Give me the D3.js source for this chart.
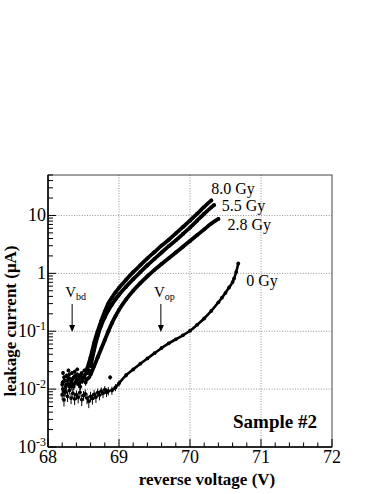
<!DOCTYPE html>
<html>
<head>
<meta charset="utf-8">
<script src="https://cdn.jsdelivr.net/npm/d3@7"></script>
<style>
  body { margin: 0; background: #fff; }
  text { font-family: "Liberation Serif", "Times New Roman", serif; }
</style>
</head>
<body>
<div id="viz-container"></div>
<script>

// measured points [reverse voltage (V), leakage current (uA)]
// low-current scatter (markers + error bars only)
var noise80 = [[68.200, 0.012], [68.212, 0.019], [68.225, 0.016], [68.238, 0.010], [68.250, 0.011], [68.262, 0.017],
  [68.275, 0.014], [68.288, 0.021], [68.300, 0.018], [68.312, 0.012], [68.325, 0.013], [68.338, 0.019],
  [68.350, 0.015], [68.362, 0.011], [68.375, 0.020], [68.388, 0.016], [68.400, 0.014], [68.412, 0.022],
  [68.425, 0.017], [68.438, 0.012], [68.450, 0.013], [68.462, 0.018], [68.475, 0.019], [68.488, 0.014],
  [68.500, 0.016], [68.512, 0.021], [68.525, 0.018], [68.538, 0.020]];
var noise55 = [[68.210, 0.010], [68.235, 0.014], [68.260, 0.017], [68.285, 0.012], [68.310, 0.015], [68.335, 0.011],
  [68.360, 0.016], [68.385, 0.013], [68.410, 0.018], [68.435, 0.012], [68.460, 0.016], [68.485, 0.014],
  [68.510, 0.017], [68.535, 0.015], [68.560, 0.019], [68.585, 0.021]];
var noise28 = [[68.205, 0.013], [68.230, 0.009], [68.255, 0.012], [68.280, 0.016], [68.305, 0.011], [68.330, 0.014],
  [68.355, 0.012], [68.380, 0.017], [68.405, 0.013], [68.430, 0.015], [68.455, 0.011], [68.480, 0.014],
  [68.505, 0.016], [68.530, 0.013], [68.555, 0.015], [68.580, 0.016]];
var noise0 = [[68.200, 0.0080], [68.225, 0.0065], [68.250, 0.0090], [68.275, 0.0075], [68.300, 0.0095], [68.325, 0.0070],
  [68.350, 0.0085], [68.375, 0.0068], [68.400, 0.0080], [68.425, 0.0072], [68.450, 0.0088], [68.475, 0.0066],
  [68.500, 0.0078], [68.525, 0.0083], [68.550, 0.0070], [68.575, 0.0062], [68.600, 0.0075], [68.625, 0.0069],
  [68.650, 0.0081], [68.675, 0.0073], [68.700, 0.0087], [68.725, 0.0079], [68.750, 0.0092], [68.775, 0.0085],
  [68.800, 0.0098], [68.825, 0.0088], [68.850, 0.0093], [68.875, 0.0160]];

// rising part of each curve
var curve80 = [[68.55, 0.0224], [68.60, 0.0355], [68.65, 0.063], [68.70, 0.100], [68.75, 0.151], [68.80, 0.219],
  [68.85, 0.302], [68.90, 0.380], [68.95, 0.468], [69.00, 0.562], [69.10, 0.776], [69.20, 1.05], [69.30, 1.38],
  [69.40, 1.82], [69.50, 2.34], [69.60, 3.02], [69.70, 3.80], [69.80, 4.90], [69.90, 6.31], [70.00, 8.13],
  [70.10, 10.7], [70.20, 14.1], [70.30, 18.2]];
var curve55 = [[68.60, 0.0251], [68.65, 0.0479], [68.70, 0.0832], [68.75, 0.126], [68.80, 0.174], [68.85, 0.229],
  [68.90, 0.288], [68.95, 0.355], [69.00, 0.427], [69.10, 0.589], [69.20, 0.794], [69.30, 1.05], [69.40, 1.38],
  [69.50, 1.78], [69.60, 2.29], [69.70, 2.95], [69.80, 3.72], [69.90, 4.79], [70.00, 6.17], [70.10, 8.13],
  [70.20, 10.7], [70.30, 13.8], [70.34, 15.1]];
var curve28 = [[68.60, 0.0178], [68.65, 0.0251], [68.70, 0.0355], [68.75, 0.0501], [68.80, 0.0708], [68.85, 0.100],
  [68.90, 0.138], [68.95, 0.182], [69.00, 0.234], [69.10, 0.355], [69.20, 0.501], [69.30, 0.676], [69.40, 0.891],
  [69.50, 1.15], [69.60, 1.45], [69.70, 1.82], [69.80, 2.29], [69.90, 2.88], [70.00, 3.63], [70.10, 4.57],
  [70.20, 5.75], [70.30, 7.24], [70.40, 8.71]];
var curve0 = [[68.90, 0.0095], [68.95, 0.0107], [69.00, 0.0126], [69.10, 0.0174], [69.20, 0.0219], [69.30, 0.0275],
  [69.40, 0.0339], [69.50, 0.0417], [69.60, 0.0513], [69.70, 0.0617], [69.80, 0.0724], [69.90, 0.0851],
  [70.00, 0.102], [70.10, 0.129], [70.20, 0.166], [70.30, 0.224], [70.40, 0.316], [70.45, 0.380], [70.50, 0.460],
  [70.55, 0.570], [70.60, 0.708], [70.62, 0.813], [70.65, 1.05], [70.68, 1.48]];

var seriesNames = ["8.0 Gy", "5.5 Gy", "2.8 Gy", "0 Gy"];
var currentErr = 0.0015;

var xTicks = [68, 69, 70, 71, 72];
var yTicks = [1e-3, 1e-2, 1e-1, 1, 10];
var yTickLabels = [["10", "-3"], ["10", "-2"], ["10", "-1"], ["1", ""], ["10", ""]];
var arrowMarks = [{ v: 68.34, main: "V", sub: "bd" }, { v: 69.59, main: "V", sub: "op" }];

var width = 382, height = 494;
var padL = 48, padR = 332, padT = 175, padB = 447;

var x = d3.scaleLinear().domain([68, 72]).range([padL, padR]);
var y = d3.scaleLog().domain([1e-3, 50]).range([padB, padT]);

var svg = d3.select('#viz-container')
  .append('svg')
  .attr("width", width)
  .attr("height", height)
  .style("background", "#fff");

// grid
svg.append('g').selectAll('line')
  .data(xTicks.slice(1, -1))
  .enter().append('line')
  .attr("x1", function (d) { return x(d); })
  .attr("x2", function (d) { return x(d); })
  .attr("y1", padT).attr("y2", padB)
  .style('stroke', '#777').style('stroke-width', 0.8).style('stroke-dasharray', '1,1.6');

svg.append('g').selectAll('line')
  .data(yTicks.slice(1))
  .enter().append('line')
  .attr("x1", padL).attr("x2", padR)
  .attr("y1", function (d) { return y(d); })
  .attr("y2", function (d) { return y(d); })
  .style('stroke', '#777').style('stroke-width', 0.8).style('stroke-dasharray', '1,1.6');

// frame
svg.append('rect')
  .attr("x", padL).attr("y", padT)
  .attr("width", padR - padL).attr("height", padB - padT)
  .style('fill', 'none').style('stroke', '#444').style('stroke-width', 1);

// x axis ticks (inside)
var xMinor = d3.range(68, 72.001, 0.2);
svg.append('g').selectAll('line')
  .data(xMinor)
  .enter().append('line')
  .attr("x1", function (d) { return x(d); })
  .attr("x2", function (d) { return x(d); })
  .attr("y1", padB)
  .attr("y2", function (d) { return Math.abs(d - Math.round(d)) < 1e-6 ? padB - 8 : padB - 4.5; })
  .style('stroke', '#000').style('stroke-width', 1);

// y axis ticks (inside, log)
var yMinor = [];
[1e-3, 1e-2, 1e-1, 1, 10].forEach(function (dec) {
  for (var k = 1; k <= 9; k++) {
    if (dec * k <= 50) yMinor.push({ v: dec * k, major: k == 1 });
  }
});
svg.append('g').selectAll('line')
  .data(yMinor)
  .enter().append('line')
  .attr("x1", padL)
  .attr("x2", function (d) { return d.major ? padL + 8 : padL + 5; })
  .attr("y1", function (d) { return y(d.v); })
  .attr("y2", function (d) { return y(d.v); })
  .style('stroke', '#000').style('stroke-width', 1);

svg.append('line')
  .attr("x1", padL).attr("x2", padR).attr("y1", padB).attr("y2", padB)
  .style('stroke', '#000').style('stroke-width', 1.5);
svg.append('line')
  .attr("x1", padL).attr("x2", padL).attr("y1", padT).attr("y2", padB)
  .style('stroke', '#000').style('stroke-width', 1.5);

// tick labels
svg.append('g').selectAll('text')
  .data(xTicks)
  .enter().append('text')
  .attr("x", function (d) { return x(d); })
  .attr("y", 463)
  .attr("text-anchor", "middle")
  .style("font-size", "18px")
  .text(function (d) { return d; });

var yl = svg.append('g').selectAll('text')
  .data(yTicks)
  .enter().append('text')
  .attr("x", 46)
  .attr("y", function (d) { return y(d) + 6; })
  .attr("text-anchor", "end")
  .style("font-size", "18px");
yl.append('tspan').text(function (d, i) { return yTickLabels[i][0]; });
yl.append('tspan')
  .attr("dy", -7)
  .style("font-size", "12px")
  .text(function (d, i) { return yTickLabels[i][1]; });

// axis titles
svg.append('text')
  .attr("x", 207).attr("y", 485)
  .attr("text-anchor", "middle")
  .style("font-size", "17px").style("font-weight", "bold")
  .text("reverse voltage (V)");

svg.append('text')
  .attr("transform", "translate(16,321) rotate(-90)")
  .attr("text-anchor", "middle")
  .style("font-size", "17px").style("font-weight", "bold")
  .text("leakage current (\u03bcA)");

// data
var plot = svg.append('g');
var line = d3.line()
  .curve(d3.curveMonotoneX)
  .x(function (d) { return x(d[0]); })
  .y(function (d) { return y(d[1]); });

var series = [
  { name: seriesNames[0], noise: noise80, curve: curve80, w: 3.8, dx: 0, dy: -6 },
  { name: seriesNames[1], noise: noise55, curve: curve55, w: 3.8, dx: 7.5, dy: 6 },
  { name: seriesNames[2], noise: noise28, curve: curve28, w: 3.8, dx: 9, dy: 11 },
  { name: seriesNames[3], noise: noise0, curve: curve0, w: 2.6, dx: 8, dy: 23 }
];

series.forEach(function (s) {
  var pts = s.noise.concat(s.curve);

  plot.append('g').selectAll('line')
    .data(pts)
    .enter().append('line')
    .attr("x1", function (d) { return x(d[0]); })
    .attr("x2", function (d) { return x(d[0]); })
    .attr("y1", function (d) { return y(d[1] + currentErr); })
    .attr("y2", function (d) { return y(d[1] - currentErr); })
    .style('stroke', '#000').style('stroke-width', 1);

  plot.append('path')
    .datum(s.curve)
    .attr("d", line)
    .style('fill', 'none').style('stroke', '#000')
    .style('stroke-width', s.w).style('stroke-linecap', 'round');

  plot.append('g').selectAll('circle')
    .data(pts)
    .enter().append('circle')
    .attr("cx", function (d) { return x(d[0]); })
    .attr("cy", function (d) { return y(d[1]); })
    .attr('r', 1.9)
    .style('fill', '#000');

  var last = s.curve[s.curve.length - 1];
  svg.append('text')
    .attr("x", x(last[0]) + s.dx)
    .attr("y", y(last[1]) + s.dy)
    .style("font-size", "16px")
    .text(s.name);
});

// V_bd / V_op arrows
arrowMarks.forEach(function (a) {
  var ax = x(a.v);
  svg.append('line')
    .attr("x1", ax).attr("x2", ax).attr("y1", 304).attr("y2", 326)
    .style('stroke', '#000').style('stroke-width', 1);
  svg.append('path')
    .attr("d", "M" + (ax - 3) + ",325 L" + (ax + 3) + ",325 L" + ax + ",332 Z")
    .style('fill', '#000');
  var t = svg.append('text')
    .attr("x", ax - 7).attr("y", 297)
    .style("font-size", "15px");
  t.append('tspan').text(a.main);
  t.append('tspan').attr("dy", 3).style("font-size", "10px").text(a.sub);
});

svg.append('text')
  .attr("x", 233).attr("y", 428)
  .style("font-size", "19px").style("font-weight", "bold")
  .text("Sample #2");

</script>
</body>
</html>
